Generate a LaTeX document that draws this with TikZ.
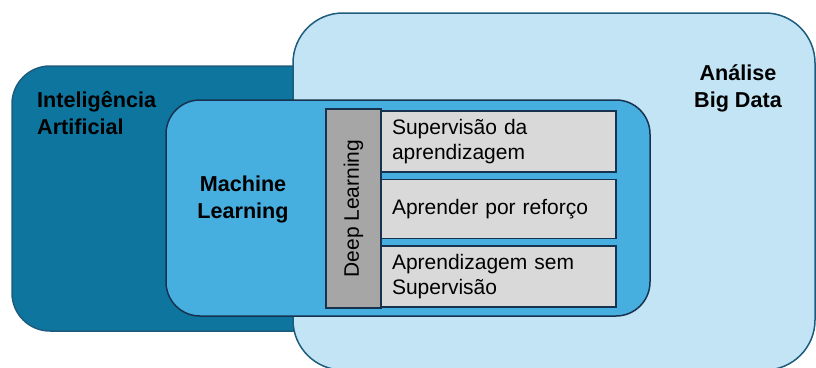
\documentclass[tikz,border=0pt]{standalone}
\usepackage{fontspec}
\setmainfont{Liberation Sans}
\usepackage{xcolor}
\usetikzlibrary{positioning}

\definecolor{bigdata}{HTML}{C2E4F4}
\definecolor{bigline}{HTML}{1E5C7E}
\definecolor{iafill}{HTML}{0E759F}
\definecolor{mlfill}{HTML}{47AEE0}
\definecolor{navy}{HTML}{17324F}
\definecolor{dlfill}{HTML}{A6A6A6}
\definecolor{boxfill}{HTML}{D9D9D9}

\begin{document}
\begin{tikzpicture}[x=1pt, y=-1pt,
    area/.style={rounded corners=#1, line width=1.5pt, draw=navy},
    lbl/.style={font=\fontsize{21.6}{27}\selectfont\bfseries, inner sep=0pt},
    dlbox/.style={draw=navy, line width=1.5pt, fill=dlfill, minimum width=199pt, minimum height=55pt, inner sep=0pt, font=\fontsize{21}{25}\selectfont},
    kind/.style={draw=navy, line width=1.5pt, fill=boxfill, minimum width=235pt, text width=213pt, align=left, inner sep=0pt, font=\fontsize{21}{25}\selectfont}]
        \useasboundingbox (0,0) rectangle (816,367);
        % areas
        \draw[area=38pt, fill=iafill, draw=bigline] (12,66) rectangle (420,331);
        \draw[area=50pt, fill=bigdata, draw=bigline] (293,13) rectangle (815,370);
        \draw[area=34pt, fill=mlfill] (166,100) rectangle (650,316);

        \node[lbl, align=left, anchor=north west] (ia) at (37,91) {Inteligência\\Artificial};
        \node[lbl, align=center] (ml) at (243,199) {Machine\\Learning};
        \node[lbl, align=center] (bd) at (738,88) {Análise\\Big Data};

        % deep learning
        \node[dlbox, rotate=90] (dl) at (353.5,208.5) {Deep Learning};
        \node[kind, minimum height=61pt] (sup) at (498.5,141.5) {Supervisão da\\aprendizagem};
        \node[kind, minimum height=59pt, below=6pt of sup] (ref) {Aprender por reforço};
        \node[kind, minimum height=61pt, below=6pt of ref] (nsup) {Aprendizagem sem\\Supervisão};
    \end{tikzpicture}
\end{document}
